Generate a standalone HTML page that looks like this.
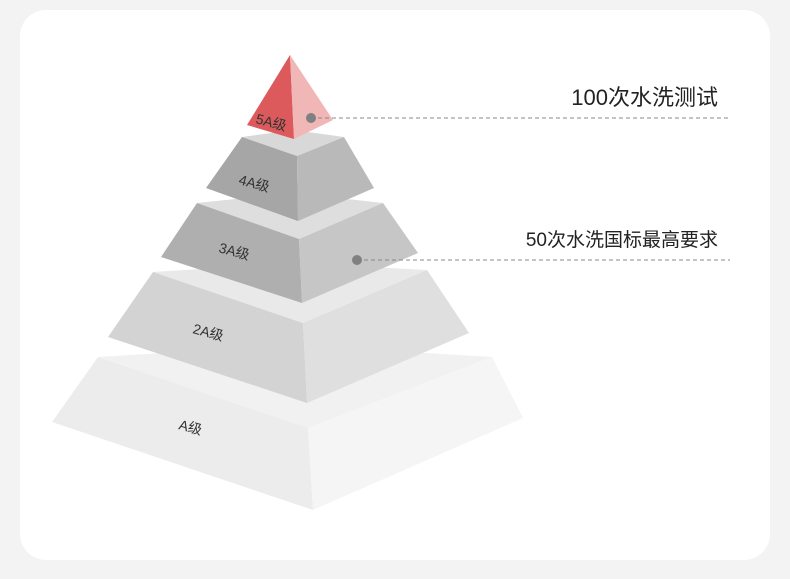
<!DOCTYPE html>
<html><head><meta charset="utf-8"><style>
html,body{margin:0;padding:0;background:#f3f3f3;}
body{width:790px;height:579px;position:relative;overflow:hidden;font-family:"Liberation Sans","Noto Sans CJK SC",sans-serif;}
.card{position:absolute;left:20px;top:10px;width:750px;height:550px;background:#fff;border-radius:26px;}
svg{position:absolute;left:0;top:0;}
</style></head><body>
<div class="card"></div>
<svg width="790" height="579" viewBox="0 0 790 579">
<polygon points="98,357 293,345 492,357 308,428" fill="#f1f1f1"/>
<polygon points="98,357 308,428 313,510 52,422" fill="#ececec"/>
<polygon points="308,428 492,357 523,418 313,510" fill="#f5f5f5"/>
<polygon points="153,272 293,263 427,270 303,323" fill="#e9e9e9"/>
<polygon points="153,272 303,323 307,403 108,337" fill="#d3d3d3"/>
<polygon points="303,323 427,270 469,333 307,403" fill="#dfdfdf"/>
<polygon points="197,203 293,193 383,203 299,239" fill="#dedede"/>
<polygon points="197,203 299,239 302,303 161,257" fill="#afafaf"/>
<polygon points="299,239 383,203 418,253 302,303" fill="#c6c6c6"/>
<polygon points="242,137 293,130 344,137 297,156" fill="#d8d8d8"/>
<polygon points="242,137 297,156 298,221 206,188" fill="#a6a6a6"/>
<polygon points="297,156 344,137 374,188 298,221" fill="#b9b9b9"/>
<polygon points="290,55 294,139 247,125" fill="#dc5a5c"/>
<polygon points="290,55 333,120 294,139" fill="#f1b6b6"/>
<g font-size="14" fill="#333">
<text x="255" y="123" transform="rotate(15 255 123)">5A级</text>
<text x="238" y="184" transform="rotate(15 238 184)">4A级</text>
<text x="218" y="252" transform="rotate(15 218 252)">3A级</text>
<text x="192" y="333" transform="rotate(15 192 333)">2A级</text>
<text x="178" y="429" transform="rotate(15 178 429)">A级</text>
</g>
<line x1="311" y1="118" x2="728" y2="118" stroke="#888" stroke-width="1" stroke-dasharray="4,3"/>
<circle cx="311" cy="118" r="5" fill="#808080"/>
<line x1="357" y1="260" x2="730" y2="260" stroke="#888" stroke-width="1" stroke-dasharray="4,3"/>
<circle cx="357" cy="260" r="5" fill="#808080"/>
<text x="718" y="105" text-anchor="end" font-size="22" fill="#222">100次水洗测试</text>
<text x="718" y="246" text-anchor="end" font-size="19" fill="#222">50次水洗国标最高要求</text>
</svg>
</body></html>
